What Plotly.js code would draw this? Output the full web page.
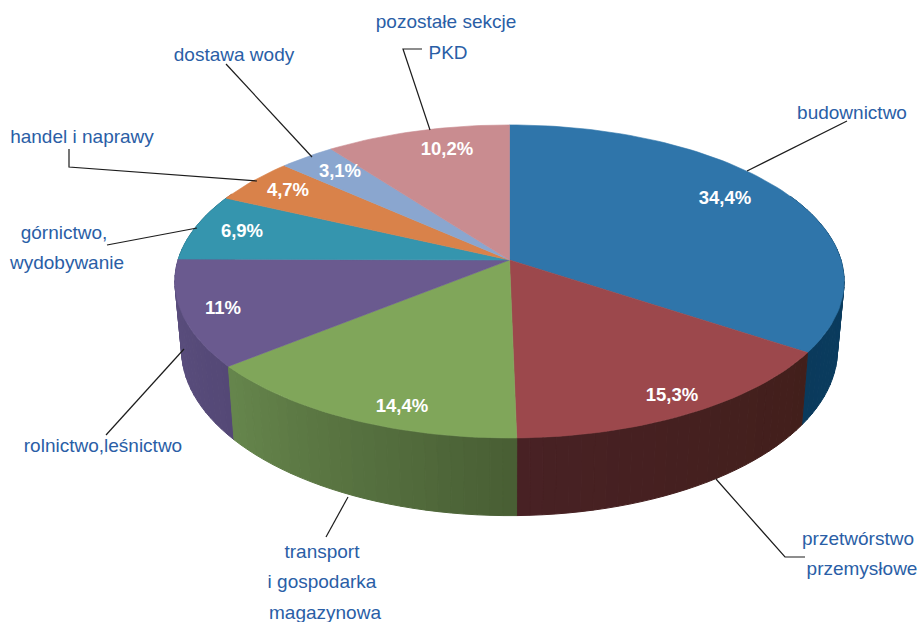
<!DOCTYPE html>
<html><head><meta charset="utf-8">
<script src="https://cdn.plot.ly/plotly-3.0.0.min.js"></script>
<style>html,body{margin:0;padding:0;background:#fff}#c{width:919px;height:622px}</style>
</head><body><div id="c"></div>
<script>
// ---- data ----
const sectors = ['budownictwo','przetwórstwo przemysłowe','transport i gospodarka magazynowa','rolnictwo,leśnictwo','górnictwo, wydobywanie','handel i naprawy','dostawa wody','pozostałe sekcje PKD'];
const shares = [34.4,15.3,14.4,11,6.9,4.7,3.1,10.2];
const topColors = ['#2f75aa','#9c484c','#80a65a','#6a5a8f','#3595ae','#d9824a','#8aa6cf','#c98c90'];
// side wall colours: [at left end of the slice, at right end of the slice]
const sideColors = [[[10,58,92],[13,68,105]],[[72,33,36],[66,31,27]],[[102,134,76],[72,94,52]],[[92,80,128],[84,72,118]],[[40,110,130],[40,110,130]],[[160,96,56],[160,96,56]],[[100,120,150],[100,120,150]],[[150,105,108],[150,105,108]]];
// ---- text placement (page pixels) ----
const pctX = [725,672,402,223,242,288,340,447];
const pctY = [199,396,407,309,232,191,172,150];
const labelText = ['budownictwo','pozostałe sekcje','PKD','dostawa wody','handel i naprawy','górnictwo,','wydobywanie','rolnictwo,leśnictwo','transport','i gospodarka','magazynowa','przetwórstwo','przemysłowe'];
const labelX = [852,446,448,234,82,64,67,103,322,322,325,858,862];
const labelY = [114,23,54,56,138,234,264,447,553,583,614,540,570];
const leaders = [
  [[747,171],[847,121]],
  [[430,130],[403,49],[422,49]],
  [[312,157],[226,64]],
  [[257,181],[69,167],[69,149]],
  [[197,228],[107,245]],
  [[184,349],[106,435]],
  [[348,497],[326,537]],
  [[716,479],[785,557],[805,557]]
];
// ---- projection of the tilted disc ----
const cx=509.5, cy=260, B=331.5, A=153.6, k=0.137, H=67, shrink=0.98;
function proj(deg, bottom){
  const t=deg*Math.PI/180, u=Math.sin(t), v=-Math.cos(t), s=1/(1-k*v);
  return bottom ? [cx+B*u*s*shrink, cy+A*v*s+H*s] : [cx+B*u*s, cy+A*v*s];
}
const traces=[];
const bounds=[0]; shares.forEach(v=>bounds.push(bounds[bounds.length-1]+v*3.6));
// side wall: small quads, back to front
const quads=[];
shares.forEach((v,i)=>{
  const a0=bounds[i], a1=bounds[i+1], n=Math.max(2,Math.ceil((a1-a0)/2));
  for(let j=0;j<n;j++){
    const p=a0+(a1-a0)*j/n, q=a0+(a1-a0)*(j+1)/n, m=(p+q)/2;
    if(Math.cos(m*Math.PI/180)>0.45) continue;
    const f=1-(j+.5)/n;
    const c0=sideColors[i][0], c1=sideColors[i][1];
    const col='rgb('+c0.map((c,x)=>Math.round(c+(c1[x]-c)*f)).join(',')+')';
    quads.push({p,q,m,col});
  }
});
quads.sort((a,b)=>Math.cos(b.m*Math.PI/180)-Math.cos(a.m*Math.PI/180));
quads.forEach(o=>{
  const a=proj(o.p,false),b=proj(o.q,false),c=proj(o.q,true),d=proj(o.p,true);
  traces.push({x:[a[0],b[0],c[0],d[0],a[0]],y:[a[1],b[1],c[1],d[1],a[1]],mode:'lines',fill:'toself',fillcolor:o.col,line:{color:o.col,width:1},hoverinfo:'skip',showlegend:false});
});
// top face slices
shares.forEach((v,i)=>{
  const xs=[cx],ys=[cy],n=Math.ceil((bounds[i+1]-bounds[i])/1.5);
  for(let j=0;j<=n;j++){const P=proj(bounds[i]+(bounds[i+1]-bounds[i])*j/n,false);xs.push(P[0]);ys.push(P[1]);}
  xs.push(cx);ys.push(cy);
  traces.push({x:xs,y:ys,name:sectors[i],mode:'lines',fill:'toself',fillcolor:topColors[i],line:{color:topColors[i],width:.6},hoverinfo:'name',showlegend:false});
});
// leaders
leaders.forEach(l=>traces.push({x:l.map(p=>p[0]),y:l.map(p=>p[1]),mode:'lines',line:{color:'#1c1c1c',width:1.2},hoverinfo:'skip',showlegend:false}));
// value labels
traces.push({x:pctX,y:pctY,text:shares.map(v=>String(v).replace('.',',')+'%'),mode:'text',textposition:'middle center',textfont:{family:'Liberation Sans',size:18.5,color:'#fff',weight:'bold'},hoverinfo:'skip',showlegend:false});
// category labels
traces.push({x:labelX,y:labelY,text:labelText,mode:'text',textposition:'middle center',textfont:{family:'Liberation Sans',size:19,color:'#2a5ea6'},hoverinfo:'skip',showlegend:false});
const axis={visible:false,fixedrange:true,showgrid:false,zeroline:false};
Plotly.newPlot('c',traces,{
  width:919,height:622,margin:{l:0,r:0,t:0,b:0},paper_bgcolor:'#fff',plot_bgcolor:'#fff',showlegend:false,
  xaxis:Object.assign({range:[0,919]},axis),yaxis:Object.assign({range:[622,0]},axis)
},{displayModeBar:false,staticPlot:true});
</script></body></html>
